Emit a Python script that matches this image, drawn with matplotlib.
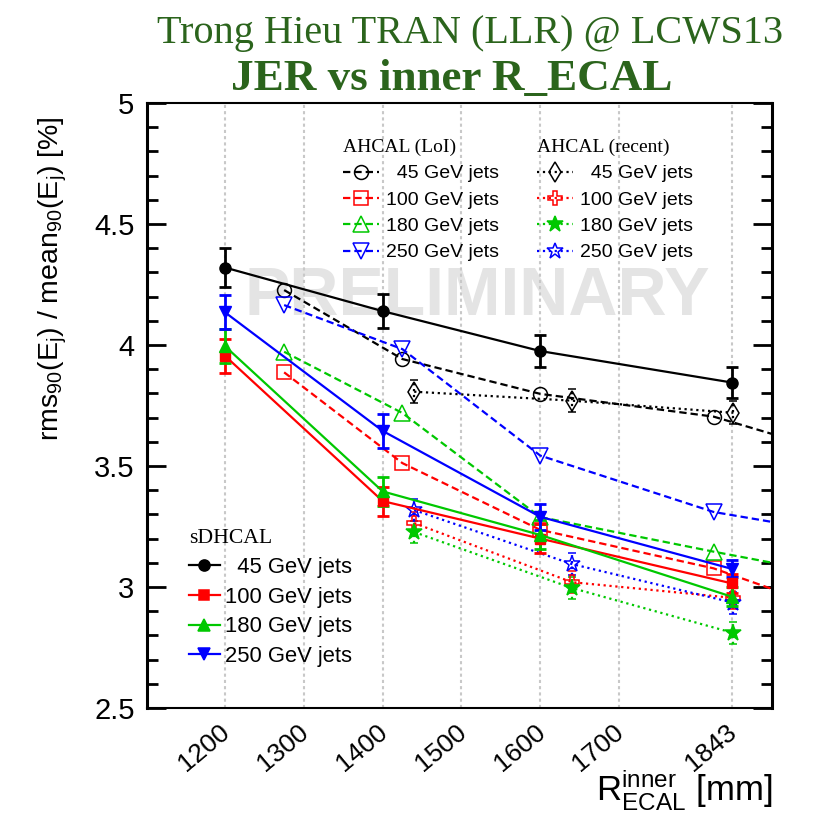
import matplotlib
matplotlib.use("Agg")
import matplotlib.pyplot as plt
from matplotlib.lines import Line2D
from matplotlib.ticker import MultipleLocator, FixedLocator
from matplotlib.transforms import ScaledTranslation

plt.rcParams["font.family"] = ["Liberation Sans", "DejaVu Sans"]
plt.rcParams["mathtext.fontset"] = "custom"
plt.rcParams["mathtext.rm"] = "Liberation Sans"
plt.rcParams["mathtext.it"] = "Liberation Sans:italic"
plt.rcParams["mathtext.bf"] = "Liberation Sans:bold"

# ---------------- data ----------------
jet_labels = ["  45 GeV jets", "100 GeV jets", "180 GeV jets", "250 GeV jets"]
colors = ["#000000", "#ff0000", "#00c800", "#0000ff"]

# sDHCAL (solid, with errors)
r_sdhcal = [1200, 1400, 1600, 1843]
jer_sdhcal = [
    [4.32, 4.14, 3.975, 3.845],
    [3.955, 3.355, 3.20, 3.015],
    [3.995, 3.395, 3.215, 2.96],
    [4.135, 3.645, 3.29, 3.075],
]
err_sdhcal = [
    [0.08, 0.07, 0.065, 0.065],
    [0.07, 0.06, 0.06, 0.04],
    [0.07, 0.06, 0.06, 0.04],
    [0.07, 0.07, 0.055, 0.035],
]

# AHCAL (LoI) — last point lies beyond the plotted range
r_loi = [1275, 1425, 1600, 1820, 2000]
jer_loi = [
    [4.227, 3.942, 3.798, 3.704, 3.53],
    [3.887, 3.512, 3.236, 3.077, 2.87],
    [3.972, 3.719, 3.289, 3.146, 3.035],
    [4.165, 3.983, 3.543, 3.31, 3.21],
]

# AHCAL (recent)
r_recent = [1440, 1640, 1845]
jer_recent = [
    [3.807, 3.770, 3.72],
    [3.264, 3.02, 2.955],
    [3.227, 2.996, 2.81],
    [3.318, 3.095, 2.935],
]
err_recent = [
    [0.048, 0.048, 0.048],
    [0.045, 0.045, 0.045],
    [0.045, 0.045, 0.045],
    [0.045, 0.045, 0.045],
]

x_ticks = [1200, 1300, 1400, 1500, 1600, 1700, 1843]

# ---------------- styles ----------------
sd_markers = ["o", "s", "^", "v"]
sd_ms = [8, 7.5, 8.5, 8.5]
loi_markers = ["o", "s", "^", "v"]
loi_ms = [10, 9.5, 11, 11]
rec_markers = ["d", "P", "*", "*"]
rec_ms = [10, 10, 12, 12]
rec_fill = [False, False, True, False]

dash = (0, (3.3, 1.8))

fig = plt.figure(figsize=(8.13, 8.14), dpi=100)
ax = fig.add_axes([147 / 813, 1 - 708 / 814, 625 / 813, 605 / 814])

# watermark
ax.text(0.528, 0.679, "PRELIMINARY", transform=ax.transAxes, fontsize=49,
        fontweight="bold", color="#e4e4e4", ha="center", va="center", zorder=0.2)

# AHCAL LoI
for i in range(4):
    ax.plot(r_loi, jer_loi[i], linestyle=dash, lw=1.6, color=colors[i],
            marker=loi_markers[i], ms=loi_ms[i], mfc="none", mec=colors[i],
            mew=1.1, zorder=3)

# AHCAL recent
for i in range(4):
    mfc = colors[i] if rec_fill[i] else "none"
    cont = ax.errorbar(r_recent, jer_recent[i], yerr=err_recent[i],
                       linestyle=":", lw=1.6, color=colors[i],
                       marker=rec_markers[i], ms=rec_ms[i], mfc=mfc,
                       mec=colors[i], mew=1.1, elinewidth=1.6, capsize=3,
                       capthick=1.6, zorder=3)
    for bc in cont[2]:
        bc.set_linestyle(":")

# sDHCAL
for i in range(4):
    ax.errorbar(r_sdhcal, jer_sdhcal[i], yerr=err_sdhcal[i],
                linestyle="-", lw=1.6, color=colors[i],
                marker=sd_markers[i], ms=sd_ms[i], mfc=colors[i],
                mec=colors[i], elinewidth=2, capsize=4, capthick=2, zorder=4)

# ---------------- axes ----------------
ax.set_xlim(1101, 1894)
ax.set_ylim(2.5, 5.0)
ax.xaxis.set_major_locator(FixedLocator(x_ticks))
ax.set_xticklabels([str(t) for t in x_ticks], rotation=40, ha="right",
                   va="top", rotation_mode="anchor", fontsize=19)
ax.tick_params(axis="x", length=0, pad=7)
shift = ScaledTranslation(-6 / 100, -2 / 100, fig.dpi_scale_trans)
for lbl in ax.get_xticklabels():
    lbl.set_transform(lbl.get_transform() + shift)
ax.yaxis.set_minor_locator(MultipleLocator(0.1))
ax.set_yticks([2.5, 3, 3.5, 4, 4.5, 5])
ax.set_yticklabels(["2.5", "3", "3.5", "4", "4.5", "5"], fontsize=21)
ax.tick_params(axis="y", which="major", direction="in", length=14, width=2,
               right=True, pad=9)
ax.tick_params(axis="y", which="minor", direction="in", length=8, width=2,
               right=True)
ax.grid(axis="x", linestyle=(0, (1.5, 1.5)), color="#c8c8c8", lw=1.5)

for side in ["left", "right"]:
    ax.spines[side].set_linewidth(2.2)
for side in ["top", "bottom"]:
    ax.spines[side].set_linewidth(1.5)

ax.set_ylabel(r"rms$_{90}$(E$_{\rm j}$) / mean$_{90}$(E$_{\rm j}$) [%]",
              fontsize=20.5, loc="top")
ax.yaxis.set_label_coords(-0.125, 0.978)
ax.set_xlabel(r"R$^{\rm inner}_{\rm ECAL}$ [mm]", fontsize=25, loc="right")
ax.xaxis.set_label_coords(1.0, -0.097)

# ---------------- legends ----------------
def handles(markers, ms, ls, fills):
    out = []
    for i in range(4):
        out.append(Line2D([], [], color=colors[i], linestyle=ls, lw=1.6,
                          marker=markers[i], ms=ms[i],
                          mfc=colors[i] if fills[i] else "none",
                          mec=colors[i], mew=1.1))
    return out

leg_sd = ax.legend(handles(sd_markers, sd_ms, "-", [True] * 4), jet_labels,
                   title="sDHCAL",
                   title_fontproperties={"family": "Liberation Serif", "size": 15.6},
                   fontsize=15.8, alignment="left", frameon=False,
                   loc="upper left", bbox_to_anchor=(178 / 813, 1 - 518 / 814),
                   bbox_transform=fig.transFigure, borderpad=0,
                   handlelength=1.4, handletextpad=0.25, labelspacing=0.4)
ax.add_artist(leg_sd)

leg_loi = ax.legend(handles(loi_markers, loi_ms, dash, [False] * 4), jet_labels,
                    title="AHCAL (LoI)",
                    title_fontproperties={"family": "Liberation Serif", "size": 14},
                    fontsize=14, alignment="left", frameon=False,
                    loc="upper left", bbox_to_anchor=(333 / 813, 1 - 129 / 814),
                    bbox_transform=fig.transFigure, borderpad=0,
                    handlelength=1.85, handletextpad=0.4, labelspacing=0.45)
ax.add_artist(leg_loi)

leg_rec = ax.legend(handles(rec_markers, rec_ms, ":", rec_fill), jet_labels,
                    title="AHCAL (recent)",
                    title_fontproperties={"family": "Liberation Serif", "size": 14},
                    fontsize=14, alignment="left", frameon=False,
                    loc="upper left", bbox_to_anchor=(527 / 813, 1 - 129 / 814),
                    bbox_transform=fig.transFigure, borderpad=0,
                    handlelength=1.85, handletextpad=0.4, labelspacing=0.45)

# ---------------- titles ----------------
green = "#2b641c"
fig.text(470 / 813, 1 - 33 / 814, "Trong Hieu TRAN (LLR) @ LCWS13",
         family="Liberation Serif", fontsize=29, color=green,
         ha="center", va="center")
fig.text(452 / 813, 1 - 79 / 814, "JER vs inner R_ECAL",
         family="Liberation Serif", fontsize=32.5, fontweight="bold",
         color=green, ha="center", va="center")

fig.savefig("out.png", dpi=100)
